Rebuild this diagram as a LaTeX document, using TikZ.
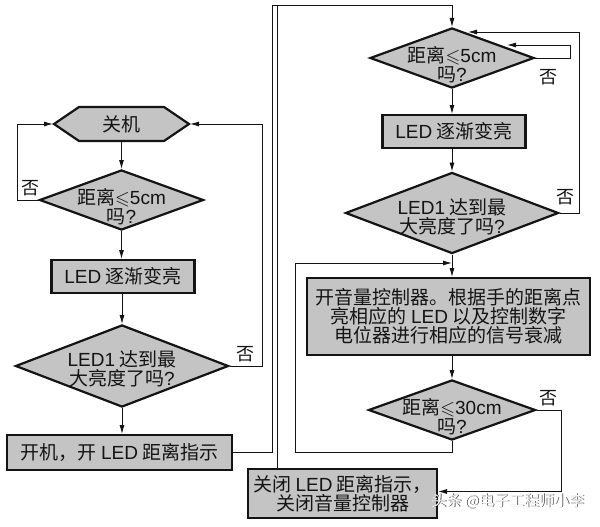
\documentclass[tikz,border=0pt]{standalone}
\usepackage{amssymb}
\usepackage{fontspec}
\setmainfont{Noto Sans CJK SC}
\newfontfamily\latf{Liberation Sans}
\usetikzlibrary{arrows.meta,shapes.geometric,calc}
\definecolor{boxgray}{RGB}{196,196,196}
\definecolor{ink}{RGB}{20,20,20}
\tikzset{
  shapeline/.style={draw=ink, line width=2.2pt, fill=boxgray},
  txt/.style={font=\fontsize{19}{19}\selectfont, align=center, text=ink, inner sep=0pt},
  procbox/.style={shapeline, rectangle, txt, outer sep=1pt},
  decision/.style={shapeline, diamond, inner sep=0pt, outer sep=1pt},
  notext/.style={font=\fontsize{18}{18}\selectfont, text=ink, inner sep=0pt},
  conn/.style={draw=ink, line width=0.9pt},
  arr/.style={conn, -{Latex[length=9pt,width=5pt]}},
  wmark/.style={font=\fontsize{15}{15}\selectfont, inner sep=0pt},
}
\begin{document}
\begin{tikzpicture}[x=1pt,y=-1pt]
\useasboundingbox (0,0) rectangle (600,527);

% ---------- left column ----------
\path[shapeline] (54,124) -- (79,107) -- (164,107) -- (189,124) -- (164,141) -- (79,141) -- cycle;
\node[rectangle, minimum width=135pt, minimum height=34pt, inner sep=0pt, outer sep=1pt] (off) at (121.5,124) {};
\node[txt] (offt) at (off) {关机};

\node[decision, minimum width=164pt, minimum height=60pt] (d1) at (121.5,200) {};
\node[txt] (d1t) at ($(d1)+(0,7)$) {距离$\leqslant${\latf 5cm}\\吗{\latf ?}};

\node[procbox, minimum width=143pt, minimum height=33pt] (b1) at (123,276.5) {{\latf LED} 逐渐变亮};

\node[decision, minimum width=213pt, minimum height=82pt] (d2) at (122,366) {};
\node[txt] (d2t) at ($(d2)+(0,3)$) {{\latf LED1} 达到最\\大亮度了吗{\latf ?}};

\node[procbox, minimum width=225pt, minimum height=35pt] (b2) at (119.5,452.5) {开机，开 {\latf LED} 距离指示};

% ---------- right column ----------
\node[decision, minimum width=164pt, minimum height=60pt] (d3) at (452,58) {};
\node[txt] (d3t) at ($(d3)+(0,7)$) {距离$\leqslant${\latf 5cm}\\吗{\latf ?}};

\node[procbox, minimum width=143pt, minimum height=33pt] (b3) at (454,131.5) {{\latf LED} 逐渐变亮};

\node[decision, minimum width=213pt, minimum height=81pt] (d4) at (452,213) {};
\node[txt] (d4t) at ($(d4)+(0,4)$) {{\latf LED1} 达到最\\大亮度了吗{\latf ?}};

\node[procbox, minimum width=283pt, minimum height=77pt] (b4) at (448.5,316.5) {开音量控制器。根据手的距离点\\亮相应的 {\latf LED} 以及控制数字\\电位器进行相应的信号衰减};

\node[decision, minimum width=167pt, minimum height=60pt] (d5) at (452,410) {};
\node[txt] (d5t) at ($(d5)+(0,7)$) {距离$\leqslant${\latf 30cm}\\吗{\latf ?}};

\node[procbox, minimum width=189pt, minimum height=49pt] (b5) at (342.5,493.5) {关闭 {\latf LED} 距离指示，\\关闭音量控制器};

\coordinate (j) at (452,263);

% ---------- connectors, left ----------
\draw[arr] (off.south) -- (off.south |- d1.north);
\draw[arr] (d1.west) -- ++(-21,0) |- (off.west);
\node[notext] (n1) at (30,188) {否};
\draw[arr] (d1.south) -- (d1.south |- b1.north);
\draw[arr] (d2.north |- b1.south) -- (d2.north);
\draw[arr] (d2.east) -- ++(33,0) |- (off.east);
\node[notext] (n2) at (245,354) {否};
\draw[arr] (d2.south) -- (d2.south |- b2.north);

% ---------- cross connectors ----------
\draw[arr] (b2.east) -| (272,5) -| (d3.north);
\draw[conn] ([xshift=30pt]b5.north west) |- (272,5);

% ---------- connectors, right ----------
\draw[arr] (d3.south) -- (d3.south |- b3.north);
\draw[arr] (d3.east) -- ++(35,0) |- ($(d3)+(55,-13)$);
\node[notext] (n3) at (548,77) {否};
\draw[arr] (d4.north |- b3.south) -- (d4.north);
\draw[arr] (d4.east) -- ++(20,0) |- ($(d3)+(16,-26)$);
\node[notext] (n4) at (565,197) {否};
\draw[arr] (d4.south) -- (d4.south |- b4.north);
\draw[arr] (d5.north |- b4.south) -- (d5.north);
\draw[arr] (d5.south) |- (295,452) |- (j);
\draw[arr] (d5.east) -- ++(25,0) |- ($(b5.east)+(0,-2)$);
\node[notext] (n5) at (548,398) {否};

% ---------- watermark ----------
\node[wmark, text=black!75] (wm0) at (508.8,501.8) {头条 @电子工程师小李};
\node[wmark, text=white] (wm) at (508,501) {头条 @电子工程师小李};
\end{tikzpicture}
\end{document}
